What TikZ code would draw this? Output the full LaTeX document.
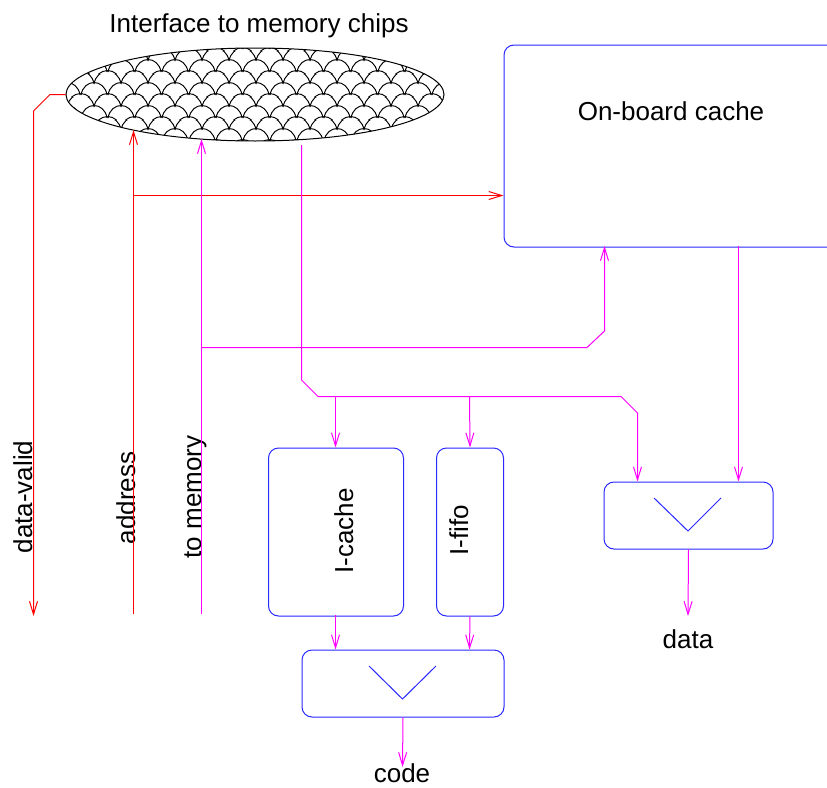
\documentclass[tikz,border=0pt]{standalone}
\usepackage{fontspec}
\setmainfont{Liberation Sans}
\usetikzlibrary{shapes.geometric,arrows.meta,patterns}
\pgfdeclarepatternformonly{fishscale}{\pgfpoint{0pt}{0pt}}{\pgfpoint{27pt}{23pt}}{\pgfpoint{27pt}{23pt}}{%
  \pgfsetlinewidth{1pt}%
  \pgfpathmoveto{\pgfpoint{0pt}{2pt}}%
  \pgfpathcurveto{\pgfpoint{3pt}{19.3pt}}{\pgfpoint{24pt}{19.3pt}}{\pgfpoint{27pt}{2pt}}%
  \pgfpathmoveto{\pgfpoint{-13.5pt}{13.5pt}}%
  \pgfpathcurveto{\pgfpoint{-10.5pt}{30.8pt}}{\pgfpoint{10.5pt}{30.8pt}}{\pgfpoint{13.5pt}{13.5pt}}%
  \pgfpathmoveto{\pgfpoint{13.5pt}{13.5pt}}%
  \pgfpathcurveto{\pgfpoint{16.5pt}{30.8pt}}{\pgfpoint{37.5pt}{30.8pt}}{\pgfpoint{40.5pt}{13.5pt}}%
  \pgfpathmoveto{\pgfpoint{-13.5pt}{-9.5pt}}%
  \pgfpathcurveto{\pgfpoint{-10.5pt}{7.8pt}}{\pgfpoint{10.5pt}{7.8pt}}{\pgfpoint{13.5pt}{-9.5pt}}%
  \pgfpathmoveto{\pgfpoint{13.5pt}{-9.5pt}}%
  \pgfpathcurveto{\pgfpoint{16.5pt}{7.8pt}}{\pgfpoint{37.5pt}{7.8pt}}{\pgfpoint{40.5pt}{-9.5pt}}%
  \pgfusepath{stroke}}
\definecolor{linered}{RGB}{255,0,0}
\definecolor{linemag}{RGB}{255,0,255}
\definecolor{boxblue}{RGB}{40,40,255}
\tikzset{
  redline/.style={draw=linered, line width=1pt},
  magline/.style={draw=linemag, line width=1pt},
  arr/.style={-{Straight Barb[length=13pt,width=8pt]}},
  blkbox/.style={draw=boxblue, line width=1pt, rounded corners=10pt, inner sep=0pt},
  lbl/.style={font=\fontsize{26}{30}\selectfont, inner sep=0pt},
  vlbl/.style={lbl, rotate=90, anchor=base},
  vee/.style={draw=boxblue, line width=1pt}
}
\begin{document}
\begin{tikzpicture}[x=1pt,y=-1pt]
\useasboundingbox (0,0) rectangle (827,787);
% memory interface
\node[ellipse, draw, line width=1pt, pattern=fishscale, minimum width=378pt, minimum height=93pt, inner sep=0pt] (mem) at (255,94.5) {};
\node[lbl, anchor=base] (title) at (259,32) {Interface to memory chips};
% boxes
\node[blkbox, anchor=north west, minimum width=360pt, minimum height=202pt] (cache) at (503.5,44.5) {};
\node[lbl, anchor=base] (cachelbl) at (671,120) {On-board cache};
\node[blkbox, anchor=north west, minimum width=135pt, minimum height=168pt] (icache) at (268,447.5) {};
\node[vlbl] (icachelbl) at (353,531) {I-cache};
\node[blkbox, anchor=north west, minimum width=67pt, minimum height=168pt] (ififo) at (436,447.5) {};
\node[vlbl] (ififolbl) at (468,530) {I-fifo};
\node[blkbox, anchor=north west, minimum width=202pt, minimum height=67pt] (muxa) at (301.5,649.5) {};
\node[blkbox, anchor=north west, minimum width=169pt, minimum height=67pt] (muxb) at (603.5,481.5) {};
\draw[vee] (369,666) -- (402.5,699) -- (436,666);
\draw[vee] (654,498) -- (688,531) -- (721,498);
% free ends
\coordinate (dvend) at (33.5,616);
\coordinate (addrend) at (133.5,614);
\coordinate (tomemend) at (201.5,614);
\coordinate (addrtop) at (133.5,130);
\coordinate (tomemtop) at (201.5,139);
\coordinate (busstart) at (301.5,145);
\coordinate (codeend) at (402.5,767);
\coordinate (dataend) at (688,616);
% labels
\node[vlbl] (dvlbl) at (32,497) {data-valid};
\node[vlbl] (addrlbl) at (135,498) {address};
\node[vlbl] (tomemlbl) at (201,497) {to memory};
\node[lbl, anchor=base] (codelbl) at (402,782) {code};
\node[lbl, anchor=base] (datalbl) at (688,648) {data};
% red connectors
\draw[redline, arr] (mem.west) -- (50,94.5) -- (33.5,111) -- (dvend);
\draw[redline, arr] (addrend) -- (addrtop);
\draw[redline, arr] (133.5,195.5) -- (cache.west |- 0,195.5);
% magenta connectors
\draw[magline, arr] (tomemend) -- (tomemtop);
\draw[magline, arr] (201.5,347.5) -- (587,347.5) -- (604.5,331) -- (604.5,246);
\draw[magline, arr] (busstart) -- (301.5,380) -- (318,396.5) -- (621,396.5) -- (637.5,413) -- (637.5,481.5);
\draw[magline, arr] (335.5,396.5) -- (icache.north -| 335.5,0);
\draw[magline, arr] (469.5,396.5) -- (ififo.north);
\draw[magline, arr] (738.5,246) -- (738.5,481.5);
\draw[magline, arr] (335.5,615) -- (335.5,649.5);
\draw[magline, arr] (ififo.south) -- (469.5,649.5);
\draw[magline, arr] (muxa.south) -- (codeend);
\draw[magline, arr] (muxb.south) -- (dataend);
\end{tikzpicture}
\end{document}
